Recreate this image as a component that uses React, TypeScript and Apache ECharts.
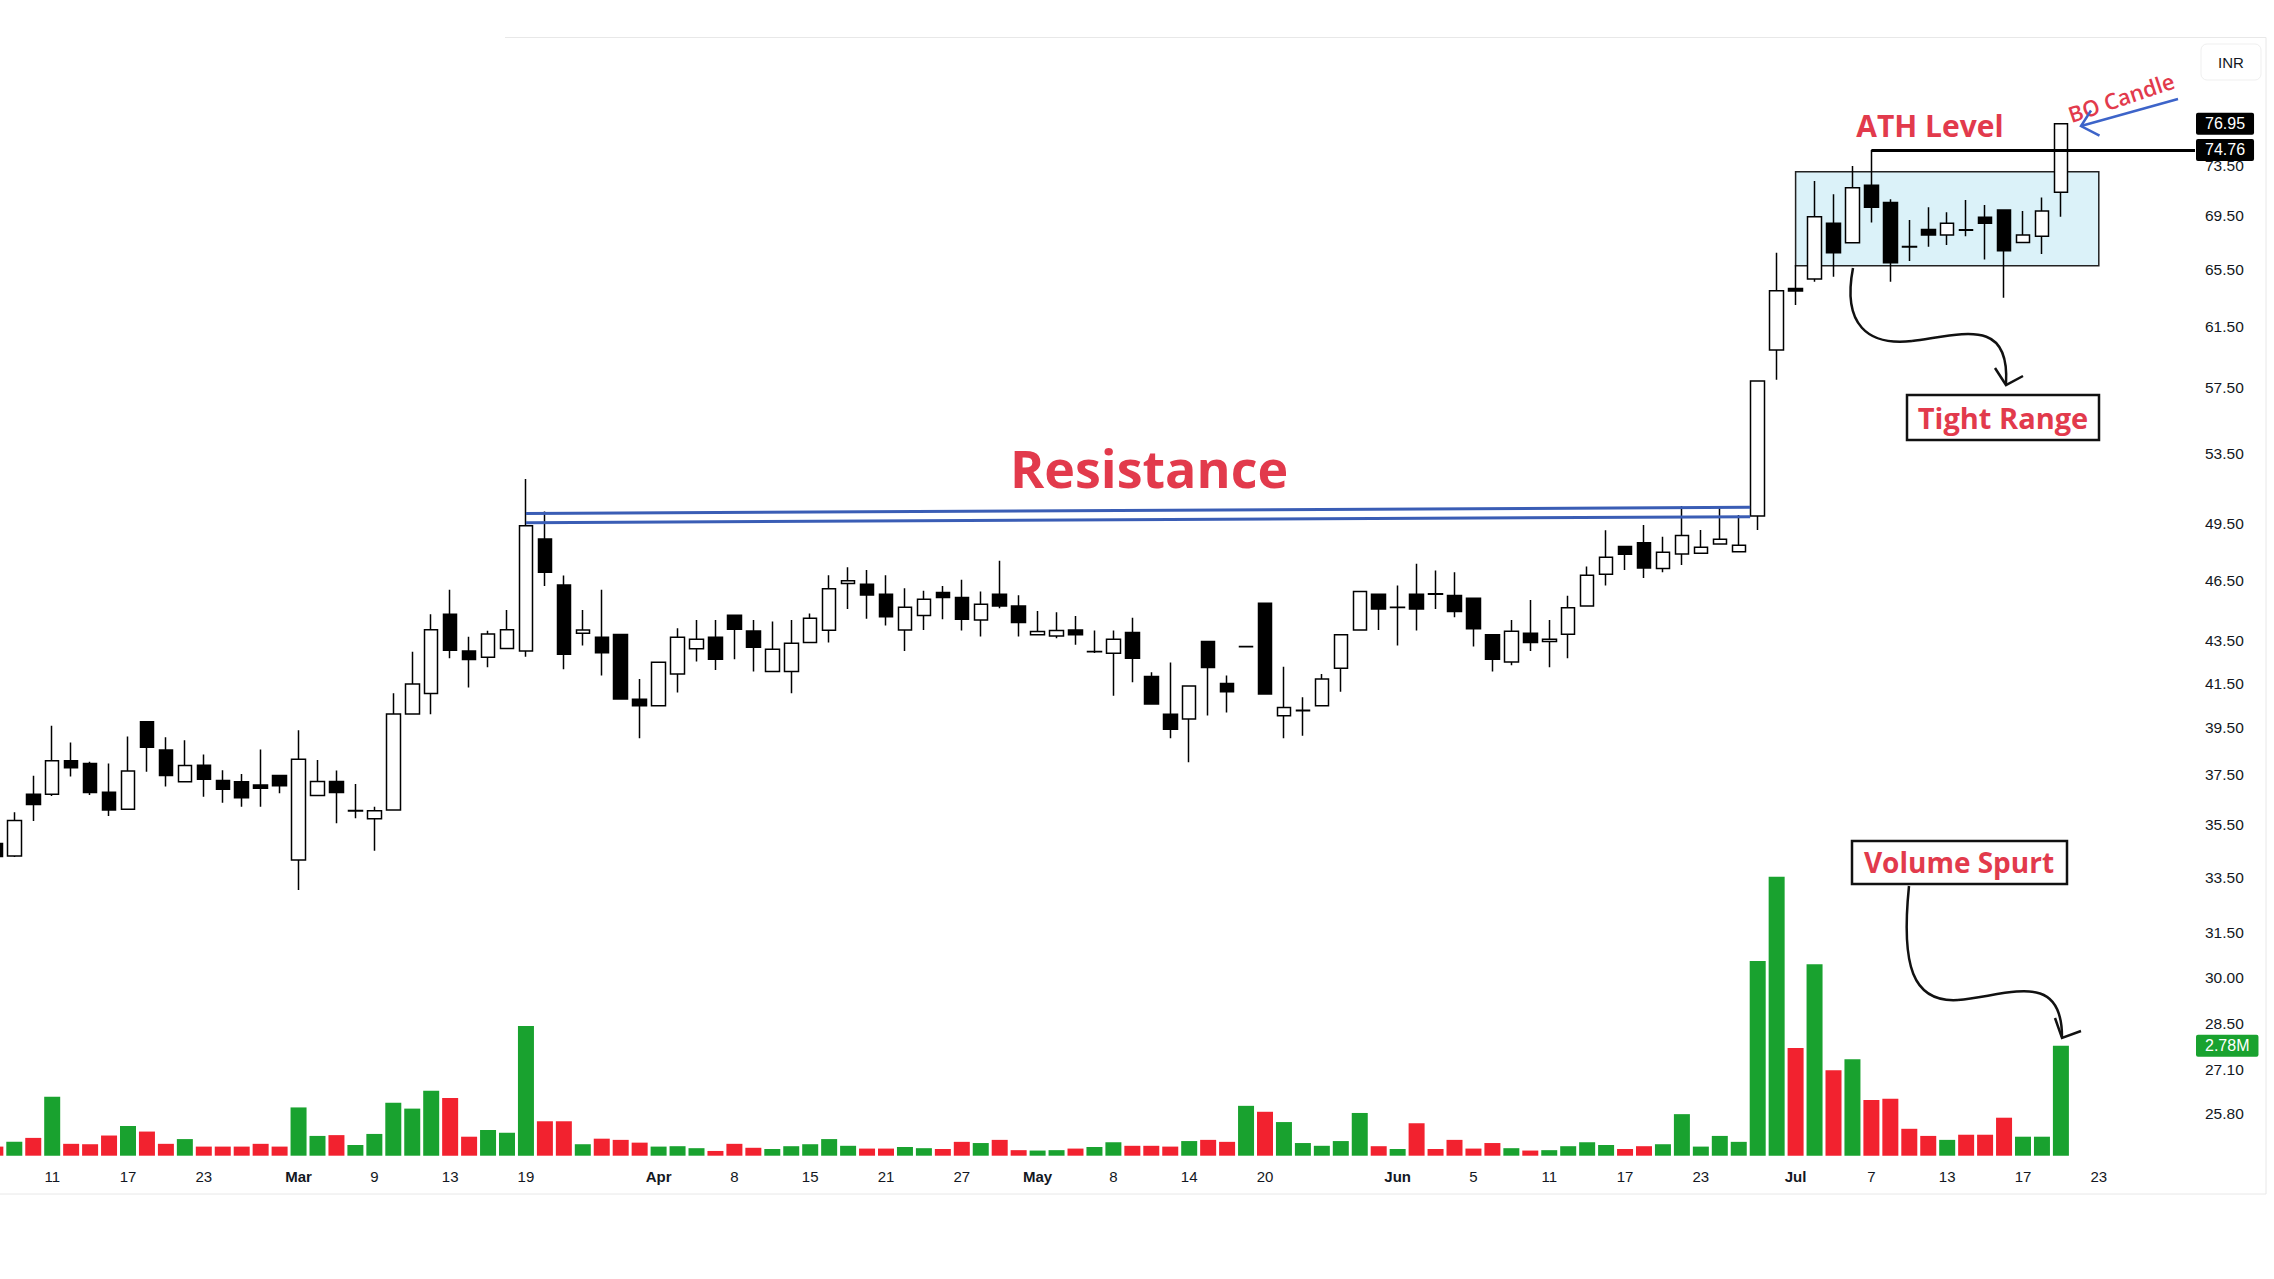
import React, { useEffect, useRef } from "react";
import * as echarts from "echarts";

// ---------- DATA ----------
// one row per session, first row is session index -1 (partly cut at the left edge)
// [open, close, low, high]
const candles: number[][] = [
  [34.77, 34.27, 34.1, 34.9],
  [34.29, 35.66, 34.25, 35.99],
  [36.71, 36.3, 35.64, 37.47],
  [36.71, 38.09, 36.64, 39.59],
  [38.09, 37.8, 37.43, 38.87],
  [37.98, 36.78, 36.68, 38.05],
  [36.79, 36.08, 35.84, 37.98],
  [36.11, 37.66, 36.11, 39.12],
  [39.77, 38.66, 37.63, 39.77],
  [38.55, 37.48, 37.02, 39.09],
  [37.22, 37.89, 37.22, 38.96],
  [37.9, 37.32, 36.61, 38.36],
  [37.27, 36.91, 36.37, 37.69],
  [37.22, 36.57, 36.21, 37.54],
  [37.09, 36.95, 36.21, 38.57],
  [37.48, 37.05, 36.75, 37.48],
  [34.14, 38.15, 33.03, 39.4],
  [36.66, 37.23, 36.66, 38.12],
  [37.23, 36.78, 35.55, 37.68],
  [36.04, 36.06, 35.75, 37.13],
  [35.73, 36.05, 34.49, 36.21],
  [36.08, 40.11, 36.08, 41.04],
  [40.11, 41.46, 40.11, 42.96],
  [41.03, 44.02, 40.1, 44.78],
  [44.78, 43.03, 42.65, 46.0],
  [43.0, 42.6, 41.3, 43.68],
  [42.7, 43.81, 42.23, 43.97],
  [43.12, 44.02, 43.12, 44.99],
  [43.0, 49.37, 42.73, 51.99],
  [48.66, 46.9, 46.2, 50.15],
  [46.25, 42.84, 42.14, 46.74],
  [43.85, 44.01, 43.26, 44.99],
  [43.66, 42.92, 41.85, 46.0],
  [43.79, 40.78, 40.78, 43.79],
  [40.77, 40.48, 39.05, 41.69],
  [40.48, 42.47, 40.48, 42.47],
  [41.92, 43.66, 41.07, 44.09],
  [43.1, 43.56, 42.5, 44.5],
  [43.66, 42.61, 42.11, 44.5],
  [44.73, 44.04, 42.61, 44.73],
  [43.96, 43.17, 42.03, 44.5],
  [42.04, 43.08, 42.04, 44.42],
  [42.04, 43.37, 41.04, 44.5],
  [43.4, 44.58, 43.4, 44.82],
  [43.99, 46.05, 43.4, 46.75],
  [46.32, 46.47, 45.04, 47.16],
  [46.29, 45.74, 44.55, 47.02],
  [45.78, 44.66, 44.22, 46.75],
  [44.0, 45.12, 43.0, 46.08],
  [44.71, 45.52, 44.01, 45.96],
  [45.86, 45.61, 44.53, 46.2],
  [45.61, 44.53, 43.98, 46.51],
  [44.5, 45.27, 43.69, 45.91],
  [45.78, 45.19, 45.07, 47.5],
  [45.19, 44.37, 43.69, 45.73],
  [43.77, 43.93, 43.77, 44.94],
  [43.72, 43.98, 43.61, 44.88],
  [44.01, 43.77, 43.29, 44.69],
  [42.96, 42.97, 42.9, 43.98],
  [42.89, 43.56, 40.93, 43.98],
  [43.88, 42.65, 41.54, 44.6],
  [41.8, 40.55, 40.55, 42.0],
  [40.1, 39.44, 39.05, 42.46],
  [39.89, 41.37, 38.03, 41.37],
  [43.45, 42.22, 40.04, 43.45],
  [41.48, 41.11, 40.18, 41.85],
  [43.2, 43.21, 43.18, 43.25],
  [45.32, 41.0, 41.0, 45.32],
  [40.03, 40.4, 39.05, 42.26],
  [40.25, 40.27, 39.16, 40.86],
  [40.47, 41.69, 40.47, 41.92],
  [42.19, 43.77, 41.11, 43.77],
  [44.01, 45.91, 44.01, 45.91],
  [45.78, 45.04, 44.01, 45.78],
  [45.11, 45.13, 43.26, 46.22],
  [45.78, 45.04, 43.98, 47.35],
  [45.8, 45.78, 45.04, 46.99],
  [45.71, 44.91, 44.63, 46.9],
  [45.57, 44.07, 43.21, 45.57],
  [43.77, 42.61, 42.03, 43.77],
  [42.48, 43.95, 42.33, 44.5],
  [43.85, 43.4, 43.0, 45.49],
  [43.45, 43.56, 42.23, 44.5],
  [43.8, 45.1, 42.65, 45.7],
  [45.19, 46.75, 45.19, 47.2],
  [46.8, 47.68, 46.22, 49.13],
  [48.25, 47.85, 47.02, 48.25],
  [48.46, 47.12, 46.6, 49.41],
  [47.1, 47.95, 46.9, 48.78],
  [47.86, 48.84, 47.28, 50.46],
  [47.89, 48.21, 47.89, 49.14],
  [48.39, 48.64, 48.39, 50.46],
  [47.98, 48.32, 47.98, 49.96],
  [49.91, 57.92, 49.14, 57.97],
  [59.94, 64.0, 58.0, 66.74],
  [64.16, 63.97, 62.99, 65.84],
  [64.83, 69.45, 64.64, 72.24],
  [68.94, 66.74, 64.99, 71.18],
  [67.48, 71.71, 67.48, 73.44],
  [71.89, 70.17, 69.01, 74.76],
  [70.55, 66.01, 64.64, 70.79],
  [67.2, 67.17, 66.14, 69.19],
  [68.48, 68.05, 67.18, 70.17],
  [68.05, 68.94, 67.31, 69.78],
  [68.45, 68.42, 67.97, 70.74],
  [69.4, 68.94, 66.25, 70.35],
  [69.96, 66.89, 63.51, 70.0],
  [67.5, 68.05, 67.5, 69.88],
  [67.97, 69.88, 66.64, 70.94],
  [71.34, 76.95, 69.45, 76.95],
];

// volume in millions, same order as candles
const volumes: number[] = [
  0.23, 0.35, 0.45, 1.49, 0.3, 0.29, 0.51, 0.75, 0.61, 0.3,
  0.42, 0.23, 0.23, 0.23, 0.3, 0.23, 1.22, 0.5, 0.52, 0.27,
  0.55, 1.34, 1.19, 1.64, 1.46, 0.48, 0.65, 0.58, 3.28, 0.87,
  0.87, 0.29, 0.43, 0.4, 0.33, 0.23, 0.24, 0.19, 0.12, 0.3,
  0.2, 0.17, 0.24, 0.29, 0.42, 0.25, 0.18, 0.18, 0.22, 0.19,
  0.17, 0.35, 0.32, 0.4, 0.14, 0.13, 0.14, 0.18, 0.22, 0.34,
  0.25, 0.25, 0.23, 0.37, 0.4, 0.35, 1.26, 1.11, 0.85, 0.32,
  0.25, 0.37, 1.08, 0.24, 0.17, 0.82, 0.17, 0.4, 0.18, 0.32,
  0.19, 0.13, 0.14, 0.24, 0.34, 0.27, 0.17, 0.24, 0.29, 1.05,
  0.23, 0.5, 0.35, 4.92, 7.05, 2.72, 4.84, 2.16, 2.44, 1.41,
  1.44, 0.68, 0.5, 0.4, 0.53, 0.53, 0.96, 0.48, 0.48, 2.78,
];

const firstSessionIndex = -1;

const xTickIndex = [2, 6, 10, 15, 19, 23, 27, 34, 38, 42, 46, 50, 54, 58, 62, 66, 73, 77, 81, 85, 89, 94, 98, 102, 106, 110];
const xTickLabels = ["11", "17", "23", "Mar", "9", "13", "19", "Apr", "8", "15", "21", "27", "May", "8", "14", "20", "Jun", "5", "11", "17", "23", "Jul", "7", "13", "17", "23"];
const monthNames = ["Mar", "Apr", "May", "Jun", "Jul"];

const priceTicks = [73.5, 69.5, 65.5, 61.5, 57.5, 53.5, 49.5, 46.5, 43.5, 41.5, 39.5, 37.5, 35.5, 33.5, 31.5, 30.0, 28.5, 27.1, 25.8];

const resistanceSpan = [27, 91.6];
const resistanceUpper = [50.05, 50.39];
const resistanceLower = [49.54, 49.87];
const athLevel = 74.76;
const athStartIndex = 98;
const lastPrice = 76.95;
const lastVolume = 2.78;
const tightRangeSpan = [94, 110];
const tightRangePrices = [72.98, 65.79];

// ---------- LAYOUT ----------
const W = 2274;
const H = 1279;
const PLOT_RIGHT = 2195;
const STEP = 18.95;
const FIRST_PX = 14.3;
const X_MIN = -FIRST_PX / STEP;
const X_MAX = (PLOT_RIGHT - FIRST_PX) / STEP;
const PRICE_TOP = 38;
const PRICE_BOTTOM = 1160;
const REF_PRICE = 73.5;
const REF_PX = 165.3;
const PX_PER_LN = 905.9;
const LN_MAX = Math.log(REF_PRICE) + (REF_PX - PRICE_TOP) / PX_PER_LN;
const LN_MIN = Math.log(REF_PRICE) - (PRICE_BOTTOM - REF_PX) / PX_PER_LN;
const VOL_TOP = 850;
const VOL_BOTTOM = 1155.7;
const PX_PER_M = 39.57;
const VOL_MAX = (VOL_BOTTOM - VOL_TOP) / PX_PER_M;

const GREEN = "#19a22f";
const RED = "#f2222f";
const NOTE_RED = "#e23a4c";
const BLUE = "#3a5db5";
const TEXT = "#131722";
const NOTE_FONT = "'Open Sans', 'Noto Sans', sans-serif";
const AXIS_FONT = "'Liberation Sans', Arial, sans-serif";

function buildOption(): any {
  const ln = Math.log;
  const candleData = candles.map((c, i) => [i + firstSessionIndex, ln(c[0]), ln(c[1]), ln(c[2]), ln(c[3])]);
  const volumeData = volumes.map((v, i) => ({
    value: [i + firstSessionIndex, v],
    itemStyle: { color: candles[i][1] >= candles[i][0] ? GREEN : RED },
  }));

  const tag = (text: string, bg: string) => ({
    show: true,
    position: "end",
    distance: 1,
    formatter: text,
    backgroundColor: bg,
    color: "#ffffff",
    opacity: 1,
    padding: [3, 9, 3, 9],
    fontSize: 16,
    fontFamily: AXIS_FONT,
    borderRadius: 2,
  });

  const hidden = { color: "rgba(0,0,0,0)", width: 1, type: "solid" };

  const noteText = (text: string, x: number, y: number, size: number, weight: string, extra: any = {}) => ({
    type: "text",
    x,
    y,
    z: 50,
    ...extra,
    style: {
      text,
      fill: NOTE_RED,
      font: `${weight} ${size}px ${NOTE_FONT}`,
      align: "center",
      verticalAlign: "middle",
    },
  });

  const blackStroke = { stroke: "#111111", lineWidth: 2.5, fill: "none" };

  return {
    animation: false,
    backgroundColor: "#ffffff",
    grid: [
      { left: 0, top: PRICE_TOP, width: PLOT_RIGHT, height: PRICE_BOTTOM - PRICE_TOP },
      { left: 0, top: VOL_TOP, width: PLOT_RIGHT, height: VOL_BOTTOM - VOL_TOP },
    ],
    xAxis: [
      {
        type: "value",
        gridIndex: 0,
        min: X_MIN,
        max: X_MAX,
        axisLine: { show: false },
        axisTick: { show: false },
        splitLine: { show: false },
        axisLabel: {
          customValues: xTickIndex,
          margin: 9,
          fontSize: 15,
          color: TEXT,
          fontFamily: AXIS_FONT,
          formatter: (v: number) => {
            const k = xTickIndex.indexOf(Math.round(v));
            const s = k >= 0 ? xTickLabels[k] : "";
            return monthNames.indexOf(s) >= 0 ? `{m|${s}}` : `{d|${s}}`;
          },
          rich: {
            m: { fontWeight: "bold", fontSize: 15, color: TEXT, fontFamily: AXIS_FONT },
            d: { fontSize: 15, color: TEXT, fontFamily: AXIS_FONT },
          },
        },
      },
      { type: "value", gridIndex: 1, min: X_MIN, max: X_MAX, show: false },
    ],
    yAxis: [
      {
        type: "value",
        gridIndex: 0,
        position: "right",
        min: LN_MIN,
        max: LN_MAX,
        axisLine: { show: false },
        axisTick: { show: false },
        splitLine: { show: false },
        axisLabel: {
          customValues: priceTicks.map((p) => Math.log(p)),
          formatter: (v: number) => Math.exp(v).toFixed(2),
          margin: 10,
          fontSize: 15.5,
          color: TEXT,
          fontFamily: AXIS_FONT,
        },
      },
      { type: "value", gridIndex: 1, min: 0, max: VOL_MAX, show: false },
    ],
    series: [
      {
        type: "bar",
        name: "Volume",
        xAxisIndex: 1,
        yAxisIndex: 1,
        barWidth: 16,
        data: volumeData,
        z: 2,
        markLine: {
          silent: true,
          symbol: ["none", "none"],
          data: [
            [
              { coord: [X_MAX - 1, lastVolume], lineStyle: hidden, label: tag(`${lastVolume.toFixed(2)}M`, GREEN) },
              { coord: [X_MAX, lastVolume] },
            ],
          ],
        },
      },
      {
        type: "candlestick",
        name: "Price",
        xAxisIndex: 0,
        yAxisIndex: 0,
        data: candleData,
        encode: { x: 0, y: [1, 2, 3, 4] },
        barWidth: 14,
        z: 3,
        itemStyle: {
          color: "#ffffff",
          color0: "#000000",
          borderColor: "#000000",
          borderColor0: "#000000",
          borderWidth: 1.5,
        },
        markArea: {
          silent: true,
          itemStyle: { color: "rgba(190, 232, 244, 0.55)", borderColor: "#222222", borderWidth: 1.5 },
          data: [
            [
              { coord: [tightRangeSpan[0], ln(tightRangePrices[0])] },
              { coord: [tightRangeSpan[1], ln(tightRangePrices[1])] },
            ],
          ],
        },
        markLine: {
          silent: true,
          symbol: ["none", "none"],
          label: { show: false },
          data: [
            [
              { coord: [resistanceSpan[0], ln(resistanceUpper[0])], lineStyle: { color: BLUE, width: 3, type: "solid" } },
              { coord: [resistanceSpan[1], ln(resistanceUpper[1])] },
            ],
            [
              { coord: [resistanceSpan[0], ln(resistanceLower[0])], lineStyle: { color: BLUE, width: 3, type: "solid" } },
              { coord: [resistanceSpan[1], ln(resistanceLower[1])] },
            ],
            [
              {
                coord: [athStartIndex, ln(athLevel)],
                lineStyle: { color: "#000000", width: 3, type: "solid" },
                label: tag(athLevel.toFixed(2), "#000000"),
              },
              { coord: [X_MAX, ln(athLevel)] },
            ],
            [
              {
                coord: [X_MAX - 1, ln(lastPrice)],
                lineStyle: hidden,
                label: tag(lastPrice.toFixed(2), "#000000"),
              },
              { coord: [X_MAX, ln(lastPrice)] },
            ],
          ],
        },
      },
    ],
    graphic: [
      // frame
      { type: "line", z: 40, shape: { x1: 505, y1: 37.5, x2: 2266, y2: 37.5 }, style: { stroke: "#e8e8e8", lineWidth: 1 } },
      { type: "line", z: 40, shape: { x1: 2266, y1: 37.5, x2: 2266, y2: 1194 }, style: { stroke: "#e8e8e8", lineWidth: 1 } },
      { type: "line", z: 40, shape: { x1: 0, y1: 1194, x2: 2266, y2: 1194 }, style: { stroke: "#e8e8e8", lineWidth: 1 } },
      // currency box
      { type: "rect", z: 40, shape: { x: 2201, y: 44, width: 60, height: 36, r: 6 }, style: { fill: "#ffffff", stroke: "#efefef", lineWidth: 1 } },
      { type: "text", z: 41, x: 2231, y: 62, style: { text: "INR", fill: TEXT, font: `15px ${AXIS_FONT}`, align: "center", verticalAlign: "middle" } },
      // notes
      noteText("Resistance", 1149, 467, 52, "bold"),
      noteText("ATH Level", 1930, 125, 30, "bold"),
      noteText("BO Candle", 2121, 97, 22, "600", { rotation: 0.325 }),
      // BO arrow
      { type: "line", z: 50, shape: { x1: 2178, y1: 99, x2: 2081, y2: 126 }, style: { stroke: "#3d64c9", lineWidth: 2.5 } },
      { type: "polyline", z: 50, shape: { points: [[2091, 110.5], [2081, 126], [2099.5, 135.6]] }, style: { stroke: "#3d64c9", lineWidth: 2.5, fill: "none" } },
      // Tight range callout
      { type: "bezierCurve", z: 50, shape: { x1: 1853, y1: 268, cpx1: 1842, cpy1: 325, cpx2: 1868, cpy2: 346, x2: 1912, y2: 341 }, style: blackStroke },
      { type: "bezierCurve", z: 50, shape: { x1: 1912, y1: 341, cpx1: 1965, cpy1: 334, cpx2: 2010, cpy2: 318, x2: 2006, y2: 384 }, style: blackStroke },
      { type: "polyline", z: 50, shape: { points: [[1995, 368], [2006, 385], [2023, 376]] }, style: blackStroke },
      { type: "rect", z: 50, shape: { x: 1907, y: 395, width: 192, height: 45 }, style: { fill: "#ffffff", stroke: "#111111", lineWidth: 2.5 } },
      noteText("Tight Range", 2003, 417, 29, "bold"),
      // Volume spurt callout
      { type: "rect", z: 50, shape: { x: 1852, y: 841, width: 215, height: 43 }, style: { fill: "#ffffff", stroke: "#111111", lineWidth: 2.5 } },
      noteText("Volume Spurt", 1959, 862, 28, "bold"),
      { type: "bezierCurve", z: 50, shape: { x1: 1909, y1: 886, cpx1: 1901, cpy1: 965, cpx2: 1912, cpy2: 1003, x2: 1958, y2: 1000 }, style: blackStroke },
      { type: "bezierCurve", z: 50, shape: { x1: 1958, y1: 1000, cpx1: 2010, cpy1: 995, cpx2: 2062, cpy2: 970, x2: 2062, y2: 1037 }, style: blackStroke },
      { type: "polyline", z: 50, shape: { points: [[2055, 1018], [2062, 1038], [2081, 1031]] }, style: blackStroke },
    ],
  };
}

export default function App() {
  const ref = useRef<HTMLDivElement>(null);
  useEffect(() => {
    document.body.style.margin = "0";
    if (!ref.current) return;
    const chart = echarts.init(ref.current, null, { renderer: "svg" });
    chart.setOption(buildOption());
    return () => {
      chart.dispose();
    };
  }, []);
  return (
    <div
      ref={ref}
      style={{ position: "fixed", left: 0, top: 0, width: W, height: H, background: "#ffffff" }}
    />
  );
}
